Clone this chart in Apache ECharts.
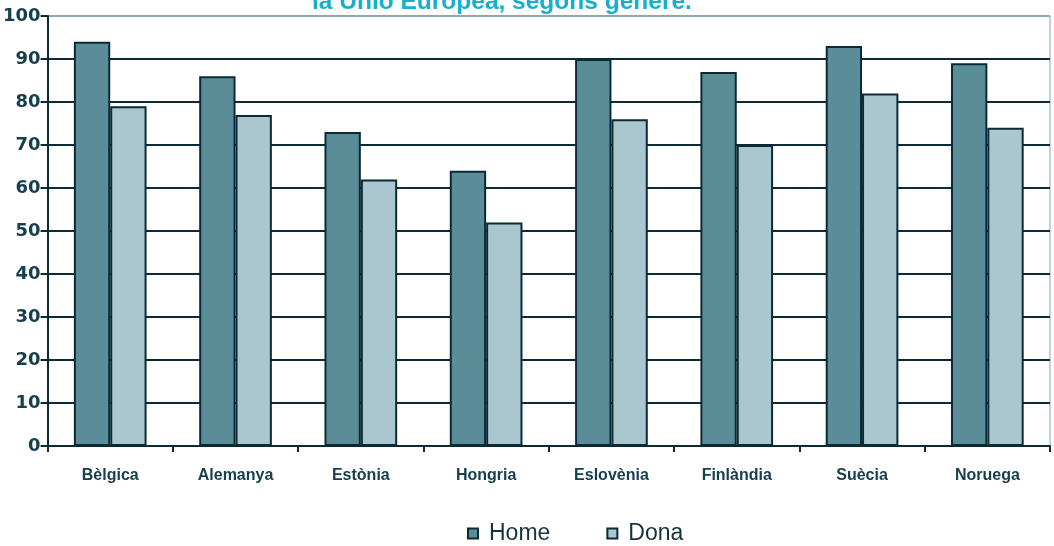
<!DOCTYPE html>
<html>
<head>
<meta charset="utf-8">
<script src="https://cdn.jsdelivr.net/npm/echarts@6/dist/echarts.min.js"></script>
<style>
  html, body { margin: 0; padding: 0; background: #ffffff; }
  #chart { width: 1054px; height: 546px; }
</style>
</head>
<body>
<div id="chart"></div>
<script>
// Countries along the x axis
const countries = ['Bèlgica', 'Alemanya', 'Estònia', 'Hongria', 'Eslovènia', 'Finlàndia', 'Suècia', 'Noruega'];
// Percentages by gender
const home = [94, 86, 73, 64, 90, 87, 93, 89];
const dona = [79, 77, 62, 52, 76, 70, 82, 74];
// Series names
const seriesNames = ['Home', 'Dona'];
const titleText = 'la Unió Europea, segons gènere.';

const dark = '#0b2a35';
const labelColor = '#17404e';

// Gridlines are dark, the top one (at 100) is the lighter plot border
const gridColors = [dark, dark, dark, dark, dark, dark, dark, dark, dark, dark, '#86a9b3'];

const chart = echarts.init(document.getElementById('chart'), null, { renderer: 'canvas' });

chart.setOption({
  animation: false,
  backgroundColor: '#ffffff',
  title: {
    text: titleText,
    left: 312,
    top: -10,
    padding: 0,
    textStyle: {
      color: '#17b0cc',
      fontFamily: 'Liberation Sans, Arial, sans-serif',
      fontWeight: 'bold',
      fontSize: 24.5
    }
  },
  grid: {
    left: 47,
    right: 4,
    top: 16,
    bottom: 100,
    show: true,
    borderColor: '#86a9b3',
    borderWidth: 1
  },
  legend: {
    data: seriesNames,
    left: 462,
    top: 517,
    itemWidth: 10,
    itemHeight: 10,
    itemGap: 56,
    icon: 'rect',
    textStyle: {
      color: '#16333d',
      fontFamily: 'Liberation Sans, Arial, sans-serif',
      fontSize: 23,
      padding: [0, 0, 0, 6]
    }
  },
  xAxis: {
    type: 'category',
    data: countries,
    axisLine: { lineStyle: { color: dark, width: 2 } },
    axisTick: { show: true, length: 6, lineStyle: { color: dark, width: 2 } },
    axisLabel: {
      margin: 22,
      color: labelColor,
      fontFamily: 'Liberation Sans, Arial, sans-serif',
      fontWeight: 'bold',
      fontSize: 16
    },
    splitLine: { show: false }
  },
  yAxis: {
    type: 'value',
    min: 0,
    max: 100,
    interval: 10,
    axisLine: { show: true, lineStyle: { color: dark, width: 2 } },
    axisTick: { show: true, length: 7, lineStyle: { color: dark, width: 2 } },
    axisLabel: {
      margin: 7,
      color: labelColor,
      fontFamily: 'DejaVu Sans, sans-serif',
      fontWeight: 'bold',
      fontSize: 18
    },
    splitLine: { show: true, lineStyle: { color: gridColors, width: 2 } }
  },
  series: [
    {
      name: seriesNames[0],
      type: 'bar',
      data: home,
      barGap: '0%',
      barCategoryGap: '42%',
      itemStyle: { color: '#5a8d98', borderColor: dark, borderWidth: 2 }
    },
    {
      name: seriesNames[1],
      type: 'bar',
      data: dona,
      itemStyle: { color: '#aac6ce', borderColor: dark, borderWidth: 2 }
    }
  ]
});
</script>
</body>
</html>
